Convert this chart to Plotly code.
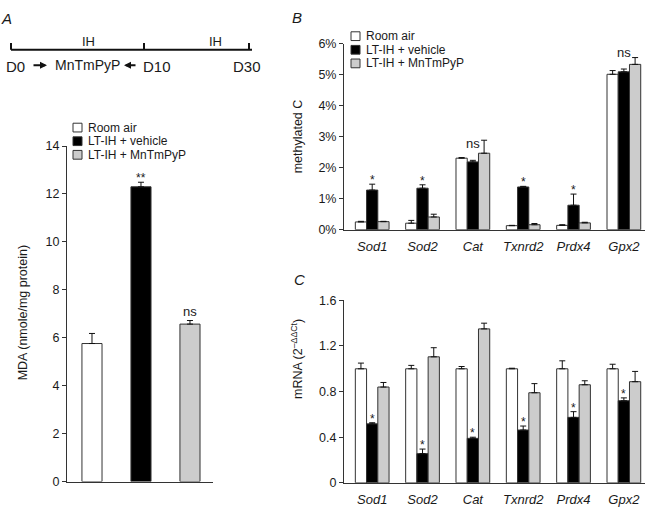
import plotly.graph_objects as go

# ---------------- data ----------------
series = ["Room air", "LT-IH + vehicle", "LT-IH + MnTmPyP"]
series_colors = ["#ffffff", "#000000", "#cccccc"]

# Panel A: MDA (nmole/mg protein)
mda_values = [5.76, 12.30, 6.57]
mda_err = [0.42, 0.19, 0.15]
mda_sig = ["", "**", "ns"]

genes = ["Sod1", "Sod2", "Cat", "Txnrd2", "Prdx4", "Gpx2"]

# Panel B: methylated C (%)
meth_room = [0.25, 0.21, 2.31, 0.13, 0.14, 5.02]
meth_room_err = [0.02, 0.09, 0.02, 0.01, 0.02, 0.12]
meth_veh = [1.28, 1.34, 2.19, 1.38, 0.79, 5.10]
meth_veh_err = [0.19, 0.11, 0.05, 0.02, 0.36, 0.09]
meth_mn = [0.26, 0.41, 2.47, 0.16, 0.22, 5.34]
meth_mn_err = [0.01, 0.09, 0.42, 0.04, 0.02, 0.22]
meth_sig = ["*", "*", "ns", "*", "*", "ns"]

# Panel C: mRNA (2^-ddCt)
mrna_room = [1.00, 1.00, 1.00, 1.00, 1.00, 1.00]
mrna_room_err = [0.05, 0.03, 0.02, 0.005, 0.07, 0.04]
mrna_veh = [0.517, 0.256, 0.39, 0.463, 0.574, 0.72]
mrna_veh_err = [0.01, 0.04, 0.01, 0.035, 0.05, 0.025]
mrna_mn = [0.84, 1.105, 1.35, 0.79, 0.86, 0.887]
mrna_mn_err = [0.04, 0.08, 0.05, 0.08, 0.035, 0.09]
mrna_sig = ["*", "*", "*", "*", "*", "*"]

timeline_days = ["D0", "D10", "D30"]
timeline_phase = ["IH", "IH"]
drug = "MnTmPyP"

# ---------------- helpers ----------------
W, H = 650, 508
FONT = "Liberation Sans, Arial, sans-serif"
TXT = "#1a1a1a"
LINE = "#333333"


def px(x):
    return x / W


def py(y):
    return 1 - y / H


def paper_text(x, y, text, size=12, xanchor="center", yanchor="middle", **kw):
    font = dict(family=FONT, size=size, color=TXT)
    font.update(kw.pop("font_extra", {}))
    return dict(xref="paper", yref="paper", x=px(x), y=py(y), text=text,
                showarrow=False, xanchor=xanchor, yanchor=yanchor,
                font=font, **kw)


fig = go.Figure()

err_style = dict(type="data", symmetric=False, color="#111111", thickness=1, width=3)

# Panel A
fig.add_trace(go.Bar(
    x=series, y=mda_values, width=0.41,
    marker=dict(color=series_colors, line=dict(color=LINE, width=1)),
    error_y=dict(array=mda_err, arrayminus=[0] * 3, **err_style),
    xaxis="x", yaxis="y", showlegend=False,
))

# Panel B
for name, col, vals, errs in zip(series, series_colors,
                                 [meth_room, meth_veh, meth_mn],
                                 [meth_room_err, meth_veh_err, meth_mn_err]):
    fig.add_trace(go.Bar(
        x=genes, y=vals, name=name,
        marker=dict(color=col, line=dict(color=LINE, width=1)),
        error_y=dict(array=errs, arrayminus=[0] * len(vals), **err_style),
        xaxis="x2", yaxis="y2", showlegend=False,
    ))

# Panel C
for name, col, vals, errs in zip(series, series_colors,
                                 [mrna_room, mrna_veh, mrna_mn],
                                 [mrna_room_err, mrna_veh_err, mrna_mn_err]):
    fig.add_trace(go.Bar(
        x=genes, y=vals, name=name,
        marker=dict(color=col, line=dict(color=LINE, width=1)),
        error_y=dict(array=errs, arrayminus=[0] * len(vals), **err_style),
        xaxis="x3", yaxis="y3", showlegend=False,
    ))

yax_common = dict(showline=True, linecolor=LINE, linewidth=1, ticks="outside",
                  ticklen=4, tickcolor=LINE, showgrid=False, zeroline=False,
                  tickfont=dict(family=FONT, size=12.5, color=TXT))
xax_common = dict(showline=True, linecolor=LINE, linewidth=1, showgrid=False,
                  zeroline=False, ticks="outside", ticklen=5,
                  tickcolor="rgba(0,0,0,0)")

fig.update_layout(
    width=W, height=H,
    margin=dict(l=0, r=0, t=0, b=0),
    paper_bgcolor="white", plot_bgcolor="rgba(0,0,0,0)",
    barmode="group", bargap=0.33, bargroupgap=0,
    font=dict(family=FONT, color=TXT),
    xaxis=dict(domain=[px(67), px(213)], range=[-0.51, 2.47], anchor="y",
               showticklabels=False, **xax_common),
    yaxis=dict(domain=[py(488), py(143)], range=[0, 14], dtick=2, anchor="x",
               **yax_common),
    xaxis2=dict(domain=[px(344), px(645)], range=[-0.56, 5.42], anchor="y2",
                tickfont=dict(family=FONT, size=13, color=TXT, style="italic"),
                **xax_common),
    yaxis2=dict(domain=[py(229), py(38)], range=[0, 6], dtick=1, ticksuffix="%",
                anchor="x2", **yax_common),
    xaxis3=dict(domain=[px(344), px(645)], range=[-0.56, 5.42], anchor="y3",
                tickfont=dict(family=FONT, size=13, color=TXT, style="italic"),
                **xax_common),
    yaxis3=dict(domain=[py(489.3), py(301.7)], range=[0, 1.6], dtick=0.4,
                anchor="x3", **yax_common),
)

ann = []
shapes = []


# significance marks, anchored to the top of each error bar
def sig_ann(xref, yref, x, y, text, ns_shift=0):
    star = "*" in text
    return dict(xref=xref, yref=yref, x=x, y=y, text=text, showarrow=False,
                xanchor="center", yanchor="bottom",
                yshift=-5 if star else ns_shift,
                font=dict(family=FONT, size=12 if star else 13, color=TXT))


for s, v, e, t in zip(series, mda_values, mda_err, mda_sig):
    if t:
        ann.append(sig_ann("x", "y", s, v + e, t))

for g, v, e, t in zip(genes, meth_veh, meth_veh_err, meth_sig):
    ann.append(sig_ann("x2", "y2", g, v + e, t, ns_shift=7))

for g, v, e, t in zip(genes, mrna_veh, mrna_veh_err, mrna_sig):
    ann.append(sig_ann("x3", "y3", g, v + e, t))

# axis titles
ann.append(paper_text(23, 315, "MDA (nmole/mg protein)", 12.5, textangle=-90))
ann.append(paper_text(298, 133, "methylated C", 12.5, textangle=-90))
ann.append(paper_text(297, 362, "mRNA (2<sup>–ΔΔCt</sup>)", 12.5, textangle=-90))

# panel letters
for letter, (lx, ly) in zip(["A", "B", "C"], [(6, 12), (297, 11), (299, 280)]):
    ann.append(paper_text(lx, ly, letter, 15, font_extra=dict(style="italic")))

# legends (panel A and panel B)
for (sx, sy0) in [(73, 124), (351, 30)]:
    for i, (name, col) in enumerate(zip(series, series_colors)):
        yc = sy0 + i * 14
        shapes.append(dict(type="rect", xref="paper", yref="paper",
                           x0=px(sx), x1=px(sx + 9), y0=py(yc + 4.5), y1=py(yc - 4.5),
                           fillcolor=col, line=dict(color=LINE, width=1)))
        ann.append(paper_text(sx + 13, yc, name, 12, xanchor="left"))

# timeline schematic (panel A)
shapes.append(dict(type="line", xref="paper", yref="paper",
                   x0=px(11), x1=px(252), y0=py(44), y1=py(44),
                   line=dict(color="#111111", width=2)))
for tx in [11, 144, 249]:
    shapes.append(dict(type="line", xref="paper", yref="paper",
                       x0=px(tx), x1=px(tx), y0=py(37), y1=py(44),
                       line=dict(color="#111111", width=2)))
for label, lx in zip(timeline_phase, [88, 215]):
    ann.append(paper_text(lx, 35, label, 13))
for label, lx in zip(timeline_days, [15, 157, 247]):
    ann.append(paper_text(lx, 61, label, 15))
ann.append(paper_text(87, 60, drug, 14))
# bold arrows pointing at the drug label
for (tip, dx) in [(47, -15), (124, 13)]:
    ann.append(dict(xref="paper", yref="paper", x=px(tip), y=py(60), ax=dx, ay=0,
                    axref="pixel", ayref="pixel", text="", showarrow=True,
                    arrowhead=2, arrowsize=0.7, arrowwidth=2, arrowcolor="#111111"))

fig.update_layout(annotations=ann, shapes=shapes)

fig.write_html("out.html", config={"displayModeBar": False},
               post_script="document.body.style.margin='0';")
